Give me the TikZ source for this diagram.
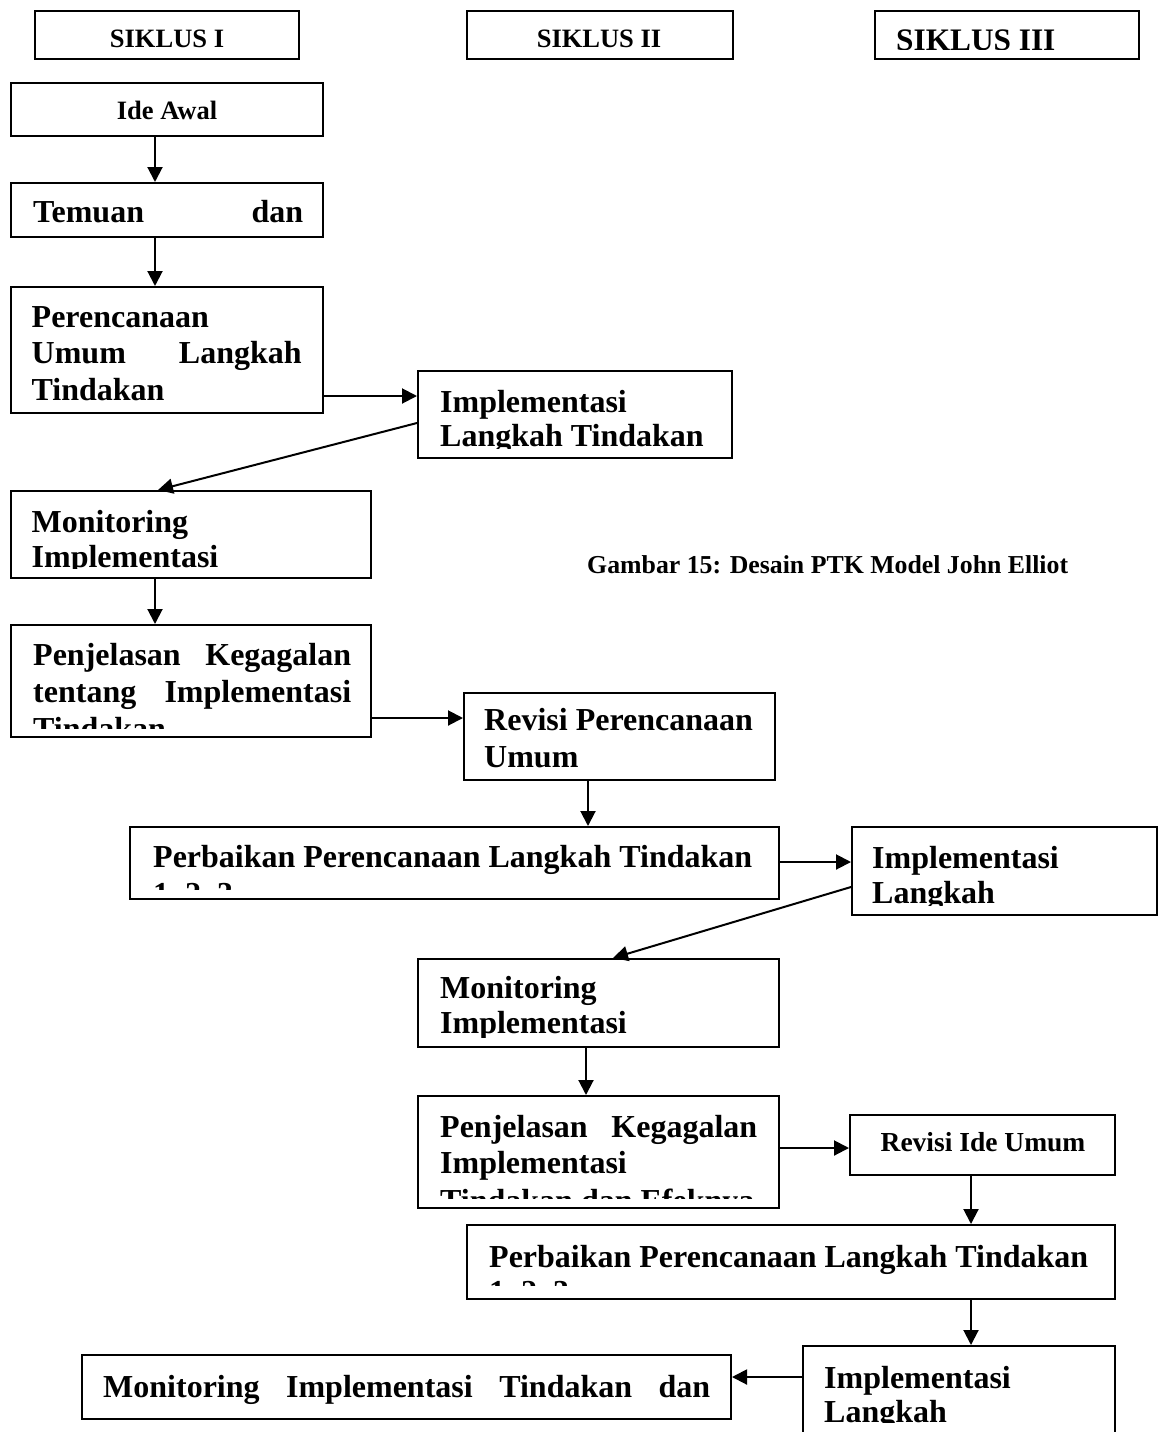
\documentclass[tikz,border=0pt]{standalone}
\usepackage{fontspec}
\setmainfont{Liberation Serif}
\usetikzlibrary{arrows.meta}
\begin{document}
\begin{tikzpicture}[x=1pt,y=-1pt,
  bx/.style={draw, line width=2pt, rectangle, inner sep=0pt},
  arr/.style={line width=2pt, -{Triangle[length=15pt,width=15pt]}},
  big/.style={font=\bfseries\fontsize{32}{36}\selectfont, inner sep=0pt, anchor=base west},
  small/.style={font=\bfseries\fontsize{26.5}{30}\selectfont, inner sep=0pt, anchor=base},
]
\useasboundingbox (0,0) rectangle (1159,1432);

% ---------- frames ----------
\node[bx, minimum width=264, minimum height=48] (s1) at (167,35) {};
\node[bx, minimum width=266, minimum height=48] (s2) at (600,35) {};
\node[bx, minimum width=264, minimum height=48] (s3) at (1007,35) {};
\node[bx, minimum width=312, minimum height=53] (ide) at (167,109.5) {};
\node[bx, minimum width=312, minimum height=54] (tem) at (167,210) {};
\node[bx, minimum width=312, minimum height=126] (per) at (167,350) {};
\node[bx, minimum width=314, minimum height=87] (imp1) at (575,414.5) {};
\node[bx, minimum width=360, minimum height=87] (mon1) at (191,534.5) {};
\node[bx, minimum width=360, minimum height=112] (pen1) at (191,681) {};
\node[bx, minimum width=311, minimum height=87] (rev1) at (619.5,736.5) {};
\node[bx, minimum width=649, minimum height=72] (prb1) at (454.5,863) {};
\node[bx, minimum width=305, minimum height=88] (imp2) at (1004.5,871) {};
\node[bx, minimum width=361, minimum height=88] (mon2) at (598.5,1003) {};
\node[bx, minimum width=361, minimum height=112] (pen2) at (598.5,1152) {};
\node[bx, minimum width=265, minimum height=60] (rid) at (982.5,1145) {};
\node[bx, minimum width=648, minimum height=74] (prb2) at (791,1262) {};
\node[bx, minimum width=312, minimum height=99] (imp3) at (959,1395.5) {};
\node[bx, minimum width=649, minimum height=64] (mon3) at (406.5,1387) {};

% ---------- texts ----------
\node[small] (ts1) at (167,47) {SIKLUS I};
\node[small] (ts2) at (599,47) {SIKLUS II};
\begin{scope}
  \clip (876,12) rectangle (1138,49.5);
  \node[big, font=\bfseries\fontsize{31.3}{34}\selectfont] (ts3) at (896,50) {SIKLUS III};
\end{scope}
\node[small] (tide) at (167,119) {Ide Awal};
\node[big] (ttem) at (33,222.7) {\hbox to 270pt{Temuan\hfill dan}};

\node[big] (tper1) at (31.5,327) {Perencanaan};
\node[big] (tper2) at (31.5,363) {\hbox to 270pt{Umum\hfill Langkah}};
\node[big] (tper3) at (31.5,400) {Tindakan};

\begin{scope}
  \clip (419,372) rectangle (731,448);
  \node[big] (timp1a) at (440,412) {Implementasi};
  \node[big] (timp1b) at (440,446) {Langkah Tindakan};
\end{scope}

\begin{scope}
  \clip (12,492) rectangle (370,568);
  \node[big] (tmon1a) at (31.5,532) {Monitoring};
  \node[big] (tmon1b) at (31.5,567) {Implementasi};
\end{scope}

\node[small, anchor=base west, font=\bfseries\fontsize{25.8}{30}\selectfont] (cap) at (587,573) {Gambar 15: Desain PTK Model John Elliot};

\begin{scope}
  \clip (12,626) rectangle (370,728);
  \node[big] (tpen1a) at (33,665) {\hbox to 318pt{Penjelasan\hfill Kegagalan}};
  \node[big] (tpen1b) at (33,702) {\hbox to 318pt{tentang\hfill Implementasi}};
  \node[big] (tpen1c) at (33,739) {Tindakan};
\end{scope}

\node[big] (trev1a) at (484,730) {Revisi Perencanaan};
\node[big] (trev1b) at (484,767) {Umum};

\begin{scope}
  \clip (131,828) rectangle (778,889);
  \node[big] (tprb1a) at (153,867) {Perbaikan Perencanaan Langkah Tindakan};
  \node[big] (tprb1b) at (153,904) {1, 2, 3};
\end{scope}

\begin{scope}
  \clip (853,828) rectangle (1156,905);
  \node[big] (timp2a) at (872,868) {Implementasi};
  \node[big] (timp2b) at (872,903) {Langkah};
\end{scope}

\begin{scope}
  \clip (419,960) rectangle (778,1037);
  \node[big] (tmon2a) at (440,998) {Monitoring};
  \node[big] (tmon2b) at (440,1033) {Implementasi};
\end{scope}

\begin{scope}
  \clip (419,1097) rectangle (778,1198);
  \node[big] (tpen2a) at (440,1137) {\hbox to 317pt{Penjelasan\hfill Kegagalan}};
  \node[big] (tpen2b) at (440,1173) {Implementasi};
  \node[big] (tpen2c) at (440,1211) {Tindakan dan Efeknya};
\end{scope}

\node[small, font=\bfseries\fontsize{27.5}{30}\selectfont] (trid) at (983,1151) {Revisi Ide Umum};

\begin{scope}
  \clip (468,1226) rectangle (1114,1285);
  \node[big] (tprb2a) at (489,1267) {Perbaikan Perencanaan Langkah Tindakan};
  \node[big] (tprb2b) at (489,1302) {1, 2, 3};
\end{scope}

\begin{scope}
  \clip (804,1347) rectangle (1114,1422);
  \node[big] (timp3a) at (824,1388) {Implementasi};
  \node[big] (timp3b) at (824,1422) {Langkah};
\end{scope}

\node[big] (tmon3) at (103,1397) {\hbox to 607pt{Monitoring\hfill Implementasi\hfill Tindakan\hfill dan}};

% ---------- connectors ----------
\draw[arr] ([xshift=-12pt]ide.south) -- ([xshift=-12pt]tem.north);
\draw[arr] ([xshift=-12pt]tem.south) -- ([xshift=-12pt]per.north);
\draw[arr] ([yshift=-46pt]per.east) -- ([yshift=-46pt]per.east -| imp1.west);
\draw[arr] ([yshift=-8.5pt]imp1.west) -- ([xshift=-33pt]mon1.north);
\draw[arr] ([xshift=-36pt]mon1.south) -- ([xshift=-36pt]pen1.north);
\draw[arr] ([yshift=-37pt]pen1.east) -- ([yshift=-37pt]pen1.east -| rev1.west);
\draw[arr] ([xshift=-31.5pt]rev1.south) -- ([xshift=-31.5pt]rev1.south |- prb1.north);
\draw[arr] ([yshift=1pt]prb1.east) -- ([yshift=1pt]prb1.east -| imp2.west);
\draw[arr] ([yshift=-16pt]imp2.west) -- ([xshift=14.5pt]mon2.north);
\draw[arr] ([xshift=-12.5pt]mon2.south) -- ([xshift=-12.5pt]pen2.north);
\draw[arr] ([yshift=4pt]pen2.east) -- ([yshift=4pt]pen2.east -| rid.west);
\draw[arr] ([xshift=-11.5pt]rid.south) -- ([xshift=-11.5pt]rid.south |- prb2.north);
\draw[arr] ([xshift=180pt]prb2.south) -- ([xshift=180pt]prb2.south |- imp3.north);
\draw[arr] ([yshift=18.5pt]imp3.west) -- ([yshift=18.5pt]imp3.west -| mon3.east);
\end{tikzpicture}
\end{document}
